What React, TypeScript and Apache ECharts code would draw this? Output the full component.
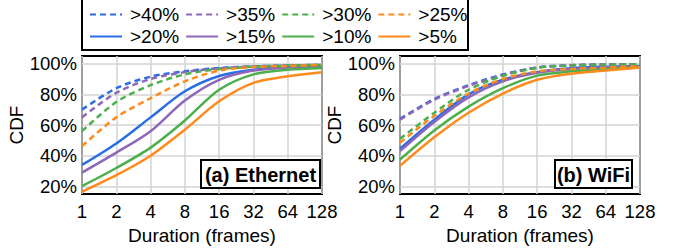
import React, { useEffect, useRef } from "react";
import * as echarts from "echarts";

const durations = [1, 2, 4, 8, 16, 32, 64, 128];
const thresholds = [">40%", ">35%", ">30%", ">25%", ">20%", ">15%", ">10%", ">5%"];
const yTicks = [20, 40, 60, 80, 100];

// Ethernet CDF (%)
const eth40 = [70, 84, 91.5, 95, 97.2, 98.2, 98.8, 99.2];
const eth35 = [65, 81, 90, 94.5, 97, 98.2, 98.8, 99.2];
const eth30 = [56, 75, 86, 93, 96.5, 98, 98.8, 99.2];
const eth25 = [46.3, 65, 77.5, 88.5, 95.5, 97.8, 98.5, 99.2];
const eth20 = [34, 48, 65, 82, 92, 96, 97.8, 98.8];
const eth15 = [29, 42, 56, 76, 89.5, 95.5, 97.5, 98.5];
const eth10 = [20.2, 32, 45.3, 63, 83, 93, 96, 97.2];
const eth5 = [16.5, 27.3, 40, 57, 75.5, 87.5, 91.8, 94.4];

// WiFi CDF (%)
const wifi40 = [64, 77, 86, 93, 97.5, 99, 99.5, 99.7];
const wifi35 = [63.5, 76.5, 85.5, 92.5, 97.5, 99, 99.5, 99.6];
const wifi30 = [51, 68, 83, 92, 97.3, 98.8, 99.4, 99.6];
const wifi25 = [48.5, 66, 80.5, 90, 95, 96.5, 97.5, 98.5];
const wifi20 = [44.6, 63.5, 80, 89.5, 94.5, 97, 98, 98.5];
const wifi15 = [43, 62, 78, 88.5, 94, 96.5, 97.5, 98.3];
const wifi10 = [37.5, 56.5, 72, 84, 92.2, 95, 96.5, 97.8];
const wifi5 = [33.4, 52, 68, 80.5, 89.5, 93.5, 95.5, 97.5];

const ethSeries = [eth40, eth35, eth30, eth25, eth20, eth15, eth10, eth5];
const wifiSeries = [wifi40, wifi35, wifi30, wifi25, wifi20, wifi15, wifi10, wifi5];

const palette = ["#2b6de3", "#8d67b9", "#4caf4c", "#ff8a1c"];
const FONT = '"Liberation Sans", Arial, sans-serif';

export default function App() {
  const ref = useRef<HTMLDivElement>(null);
  useEffect(() => {
    if (!ref.current) return;
    const chart = echarts.init(ref.current, null, { renderer: "svg" });
    const grids = [
      { left: 82, top: 56, width: 240, height: 139 },
      { left: 400, top: 56, width: 240, height: 139 },
    ];
    const xAxes = grids.map((_, i) => ({
      type: "log",
      logBase: 2,
      min: 1,
      max: 128,
      gridIndex: i,
      axisLine: { show: false },
      axisTick: { show: false },
      axisLabel: { fontSize: 18.5, color: "#000", fontFamily: FONT, margin: 8 },
      splitLine: { show: true, lineStyle: { color: "#d3d3d3", width: 1.5 } },
      name: "Duration (frames)",
      nameLocation: "middle",
      nameGap: 26,
      nameTextStyle: { fontSize: 19, color: "#000", fontFamily: FONT },
    }));
    const yAxes = grids.map((_, i) => ({
      type: "value",
      gridIndex: i,
      min: 15,
      max: 105,
      splitNumber: 5,
      axisLine: { show: false },
      axisTick: { show: false, customValues: yTicks },
      axisLabel: {
        customValues: yTicks,
        formatter: "{value}%",
        fontSize: 18.5,
        color: "#000",
        fontFamily: FONT,
        margin: 5,
      },
      splitLine: { show: true, lineStyle: { color: "#d3d3d3", width: 1.5 } },
      name: "CDF",
      nameLocation: "middle",
      nameGap: 48,
      nameTextStyle: { fontSize: 19, color: "#000", fontFamily: FONT },
    }));
    const series: any[] = [];
    [ethSeries, wifiSeries].forEach((set, gi) => {
      set.forEach((vals, k) => {
        series.push({
          type: "line",
          name: thresholds[k],
          xAxisIndex: gi,
          yAxisIndex: gi,
          data: durations.map((d, j) => [d, vals[j]]),
          smooth: 0.3,
          symbol: "none",
          z: k < 4 ? 3 : 2,
          lineStyle: {
            color: palette[k % 4],
            width: 2.5,
            type: k < 4 ? [6, 4] : "solid",
          },
          itemStyle: { color: palette[k % 4] },
        });
      });
    });
    const legendBase = {
      itemWidth: 32,
      itemHeight: 14,
      itemGap: 6,
      padding: 0,
      itemStyle: { opacity: 0 },
      textStyle: { fontSize: 19, color: "#000", fontFamily: FONT, padding: [0, 0, 0, 3] },
    };
    chart.setOption({
      animation: false,
      grid: grids.map((g) => ({
        ...g,
        show: true,
        borderColor: "#000",
        borderWidth: 2,
        backgroundColor: "transparent",
      })),
      xAxis: xAxes,
      yAxis: yAxes,
      legend: [
        { ...legendBase, data: thresholds.slice(0, 4), left: 89, top: 5 },
        { ...legendBase, data: thresholds.slice(4), left: 89, top: 27 },
      ],
      series,
      graphic: [
        {
          type: "rect",
          shape: { x: 82, y: -10, width: 386, height: 60 },
          style: { fill: "none", stroke: "#000", lineWidth: 2 },
          z: 10,
        },
        {
          type: "rect",
          shape: { x: 201, y: 160, width: 119, height: 28 },
          style: { fill: "#fff", stroke: "#000", lineWidth: 2 },
          z: 10,
        },
        {
          type: "text",
          x: 260.5,
          y: 174.5,
          style: {
            text: "(a) Ethernet",
            fill: "#000",
            font: `bold 20px ${FONT}`,
            align: "center",
            verticalAlign: "middle",
          },
          z: 11,
        },
        {
          type: "rect",
          shape: { x: 555, y: 160, width: 77, height: 28 },
          style: { fill: "#fff", stroke: "#000", lineWidth: 2 },
          z: 10,
        },
        {
          type: "text",
          x: 593.5,
          y: 174.5,
          style: {
            text: "(b) WiFi",
            fill: "#000",
            font: `bold 20px ${FONT}`,
            align: "center",
            verticalAlign: "middle",
          },
          z: 11,
        },
      ],
    });
    return () => chart.dispose();
  }, []);
  return (
    <div
      ref={ref}
      style={{ position: "fixed", left: 0, top: 0, width: 683, height: 250, background: "#fff" }}
    />
  );
}
